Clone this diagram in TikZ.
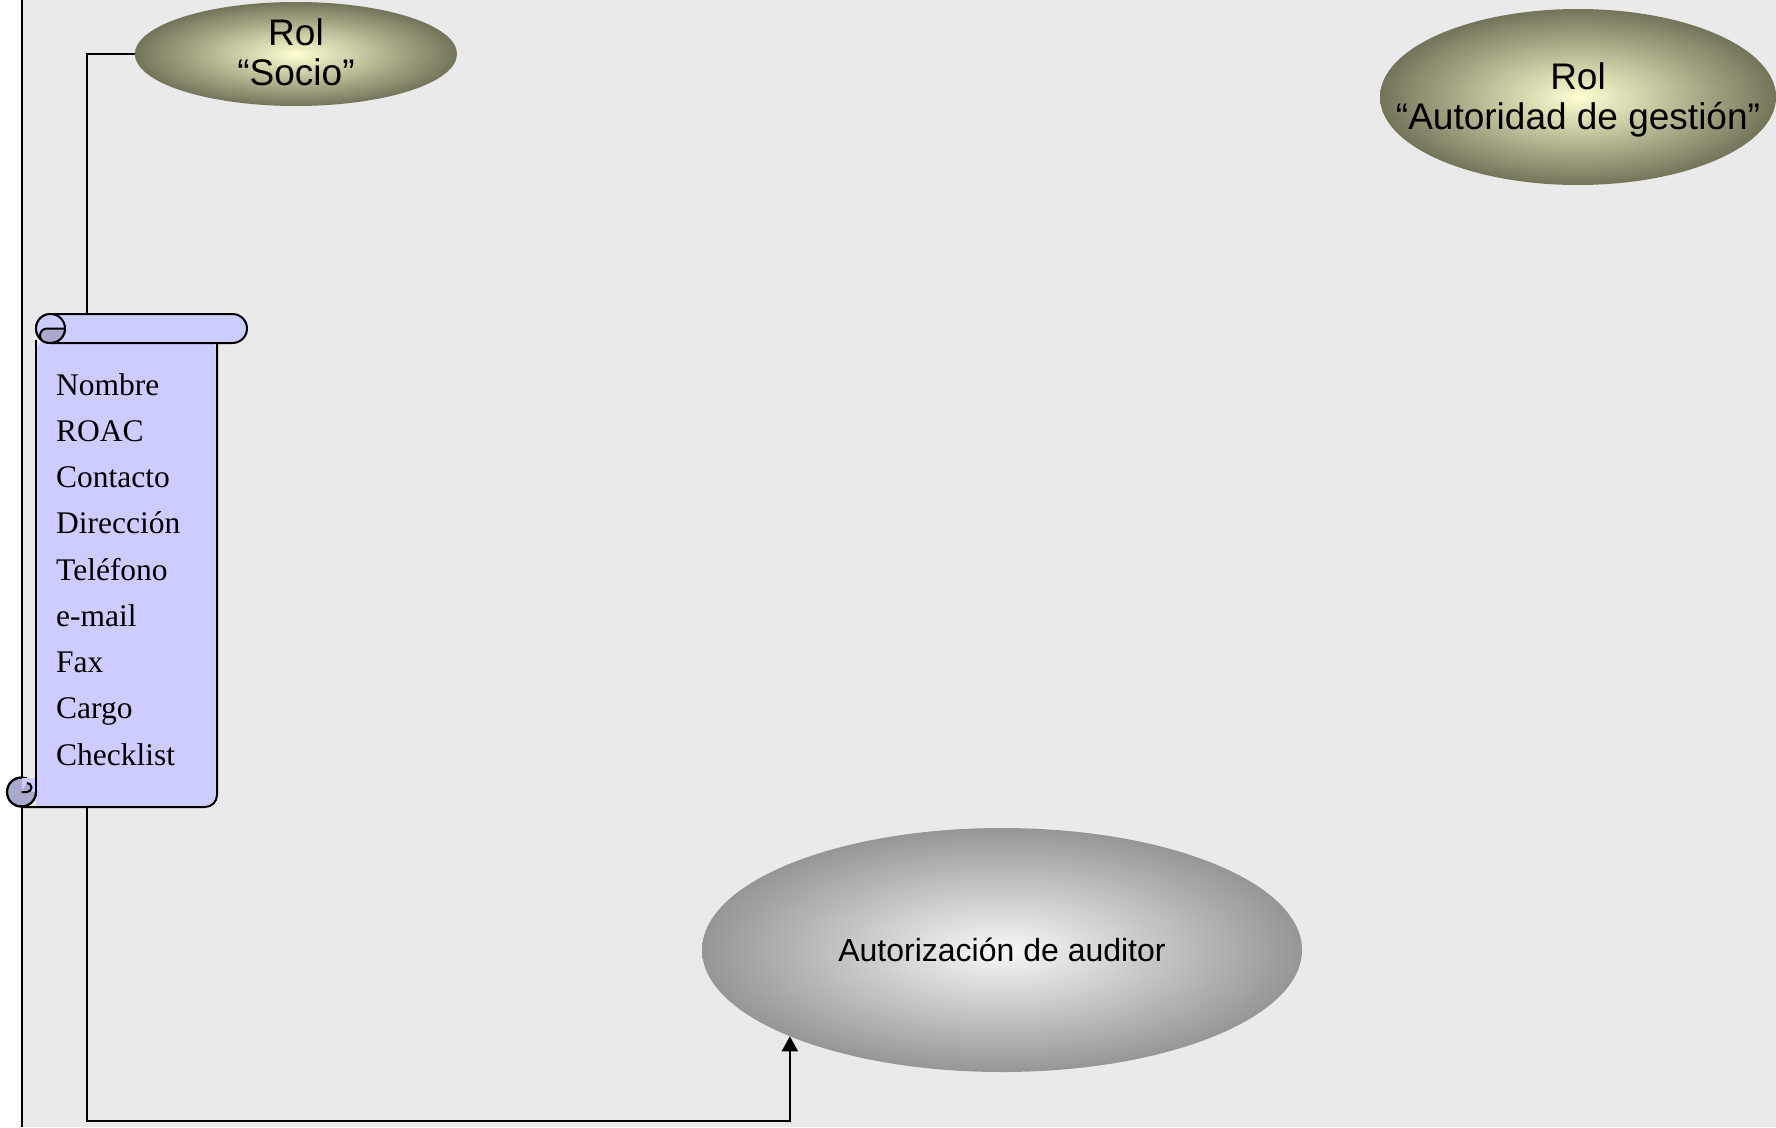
\documentclass[tikz,border=0pt]{standalone}
\usepackage{fontspec}
\newfontfamily\arialf{Liberation Sans}
\newfontfamily\timesf{Liberation Serif}
\usetikzlibrary{shapes.geometric,arrows.meta}
\definecolor{bggray}{HTML}{EAEAEA}
\definecolor{lav}{HTML}{CCCCFF}
\definecolor{lavdark}{HTML}{AAAACC}
\definecolor{olive}{RGB}{116,116,90}
\definecolor{cream}{RGB}{255,255,210}
\definecolor{grayedge}{RGB}{150,150,150}
\definecolor{graycenter}{RGB}{248,248,248}
\begin{document}
\begin{tikzpicture}[x=1pt,y=-1pt,
  conn/.style={line width=2pt, draw=black},
  sline/.style={line width=2pt, draw=black},
  rolell/.style={ellipse, inner sep=0pt, outer sep=0pt, inner color=cream, outer color=olive},
  roltext/.style={font=\arialf\fontsize{37}{40}\selectfont, align=center, inner sep=0pt},
  autell/.style={ellipse, inner sep=0pt, outer sep=0pt, inner color=graycenter, outer color=grayedge,
     font=\arialf\fontsize{32}{38}\selectfont},
  field/.style={font=\timesf\fontsize{31.5}{36}\selectfont, inner sep=0pt, anchor=base west}]
\useasboundingbox (0,0) rectangle (1776,1127);
\fill[white] (0,0) rectangle (22,1127);
\fill[bggray] (22,0) rectangle (1776,1127);
\draw[conn] (22,0) -- (22,1127);

% role ellipses
\node[rolell, minimum width=322pt, minimum height=104pt,
      label={[roltext, yshift=2pt]center:{Rol\\“Socio”}}] (socio) at (296,54) {};
\node[rolell, minimum width=396pt, minimum height=176pt,
      label={[roltext, yshift=-3pt]center:{Rol\\“Autoridad de gestión”}}] (autoridad) at (1578,97) {};

% process ellipse
\node[autell, minimum width=600pt, minimum height=244pt] (autor) at (1002,950) {Autorización de auditor};

% connector anchors on the scroll
\coordinate (scrolltop) at (87,314);
\coordinate (scrollbot) at (87,807);
\coordinate (corner) at (87,1121);
\coordinate (socioelbow) at (87,54);

\draw[conn] (socio.west) -- (socioelbow) -- (scrolltop);
\draw[conn, -{Triangle[width=16pt,length=15pt]}] (scrollbot) -- (corner) -| (autor.south west);

% scroll body
\fill[lav] (36,340) -- (36,807) [rounded corners=12pt] -- (217,807) -- (217,340) -- cycle;
% bottom curl
\filldraw[sline, fill=lavdark] (21.5,792) circle (14.5);
\fill[lav] (21.5,777.5) rectangle (36,792);
\draw[sline] (36,792) arc[start angle=0, end angle=270, radius=14.5];
\filldraw[sline, fill=lavdark] (21.5,792) -- (27,792) arc[start angle=90, end angle=-90, radius=4.5];
\draw[sline] (36,340) -- (36,792);
\draw[sline] (21.5,807) [rounded corners=12pt] -- (217,807) -- (217,340);
% top bar
\filldraw[sline, fill=lav, rounded corners=14.5pt] (36,314) rectangle (247,343);
\filldraw[sline, fill=lav] (50.5,328.5) circle (14.5);
\filldraw[sline, fill=lavdark] (65,328.5) -- (47,328.5) arc[start angle=270, end angle=90, radius=7]
   arc[start angle=104, end angle=0, radius=14.5] -- cycle;

% scroll text
\foreach \t [count=\i] in {Nombre,ROAC,Contacto,Dirección,Teléfono,e-mail,Fax,Cargo,Checklist}
  \node[field] (f\i) at (56,{395+46.25*(\i-1)}) {\t};
\end{tikzpicture}
\end{document}
